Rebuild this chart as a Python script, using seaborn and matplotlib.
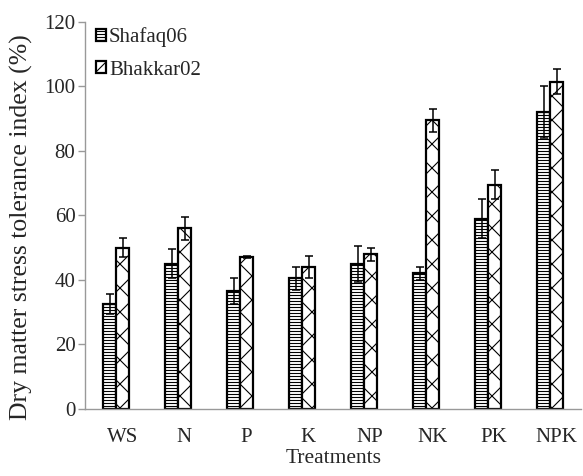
import seaborn as sns
import matplotlib.pyplot as plt
import matplotlib.transforms as mtransforms
from matplotlib.patches import Patch
import numpy as np
import pandas as pd

sns.set_style("white")
plt.rcParams['font.family'] = ['Liberation Serif', 'DejaVu Serif']

# drawn at 72 dpi so the hatch unit is 72 px; sizes in points scaled up to match
K = 100 / 72
plt.rcParams['hatch.linewidth'] = 0.8 * K

treatments = ["WS", "N", "P", "K", "NP", "NK", "PK", "NPK"]
shafaq = [32.5, 45, 36.5, 40.5, 45, 42, 59, 92]
shafaq_err = [3, 4.5, 4, 3.5, 5.5, 2, 6, 8]
bhakkar = [50, 56, 47, 44, 48, 89.5, 69.5, 101.5]
bhakkar_err = [3, 3.5, 0.3, 3.5, 2, 3.5, 4.5, 4]
varieties = ["Shafaq06", "Bhakkar02"]

df = pd.DataFrame({
    "Treatments": treatments * 2,
    "Variety": [varieties[0]] * len(treatments) + [varieties[1]] * len(treatments),
    "value": shafaq + bhakkar,
})

fig, ax = plt.subplots(figsize=(583 / 72, 476 / 72), dpi=72)
sns.barplot(data=df, x="Treatments", y="value", hue="Variety", errorbar=None,
            width=0.42, gap=0, palette=["white", "white"], edgecolor="black",
            linewidth=1.6 * K, legend=False, ax=ax)

hatches = ["----", "x"]
for cont, h, errs in zip(ax.containers, hatches, [shafaq_err, bhakkar_err]):
    xs, ys = [], []
    for bar in cont:
        bar.set_hatch(h)
        xs.append(bar.get_x() + bar.get_width() / 2)
        ys.append(bar.get_height())
    ax.errorbar(xs, ys, yerr=errs, fmt="none", ecolor="black", elinewidth=1.1 * K,
                capsize=3 * K, capthick=1.1 * K, zorder=5)

ax.set_ylim(0, 120)
ax.set_yticks(range(0, 121, 20))
ax.set_xlim(-0.5, 7.5)
ax.set_ylabel("Dry matter stress tolerance index (%)", fontsize=18.5 * K)
ax.yaxis.set_label_coords(-0.106, 0.47)
ax.set_xlabel("Treatments", fontsize=15.5 * K, labelpad=1 * K)
ax.tick_params(axis="y", labelsize=15 * K, length=5 * K, width=K, color="#999999",
               left=True, pad=2 * K)
ax.tick_params(axis="x", labelsize=15 * K, length=0, pad=14 * K)
shift = mtransforms.ScaledTranslation(6 / 72, 0, fig.dpi_scale_trans)
for lab in ax.get_xticklabels():
    lab.set_transform(lab.get_transform() + shift)
for s in ["top", "right"]:
    ax.spines[s].set_visible(False)
for s in ["left", "bottom"]:
    ax.spines[s].set_color("#999999")
    ax.spines[s].set_linewidth(1 * K)

handles = [Patch(facecolor="white", edgecolor="black", hatch=h, linewidth=1.6 * K, label=v)
           for h, v in zip(hatches, varieties)]
ax.legend(handles=handles, loc="upper left", bbox_to_anchor=(-0.015, 1.035), frameon=False,
          fontsize=15 * K, handlelength=0.45, handleheight=0.5,
          handletextpad=0.15, labelspacing=0.65)

plt.subplots_adjust(left=0.146, right=0.997, bottom=0.141, top=0.954)
plt.savefig("out.png", dpi=72)
